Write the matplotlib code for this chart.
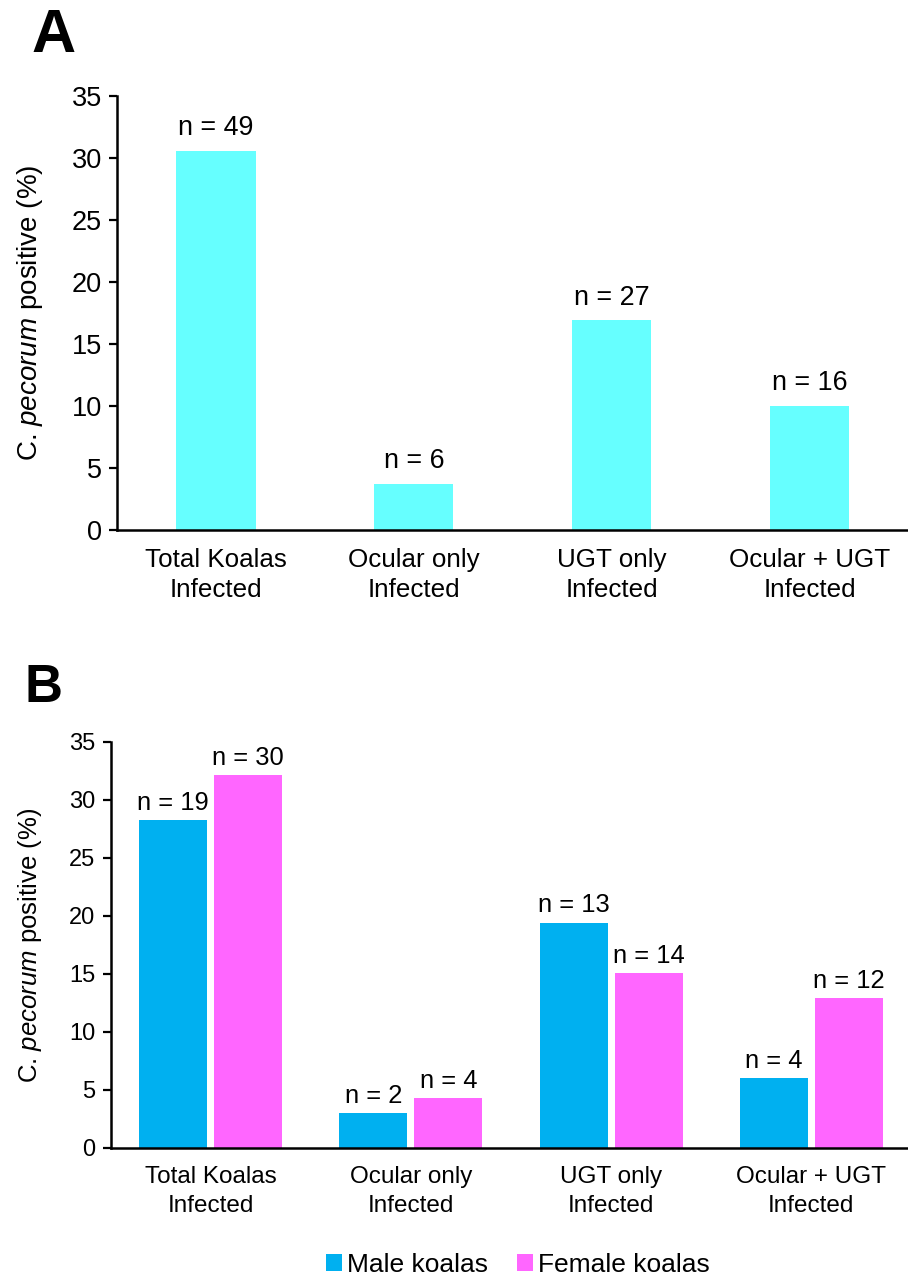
import matplotlib
matplotlib.use("Agg")
import matplotlib.pyplot as plt
from matplotlib.patches import Patch
import numpy as np

plt.rcParams['font.family'] = ['Liberation Sans', 'DejaVu Sans']
plt.rcParams['mathtext.fontset'] = 'custom'
plt.rcParams['mathtext.rm'] = 'Liberation Sans'
plt.rcParams['mathtext.it'] = 'Liberation Sans:italic'

# ---- data ----
categories = ["Total Koalas\nInfected", "Ocular only\nInfected",
              "UGT only\nInfected", "Ocular + UGT\nInfected"]
total_pct = [30.6, 3.75, 16.9, 10.0]
total_n = [49, 6, 27, 16]
male_pct = [28.2, 3.0, 19.4, 6.0]
male_n = [19, 2, 13, 4]
female_pct = [32.1, 4.3, 15.05, 12.9]
female_n = [30, 4, 14, 12]
yticks = [0, 5, 10, 15, 20, 25, 30, 35]

cyan = "#66FFFF"
blue = "#00B0F0"
pink = "#FF66FF"

W, H = 908, 1277
fig = plt.figure(figsize=(W / 100, H / 100), dpi=100)

def style_axes(ax, tick_fs, cat_fs, spacing, pad):
    ax.set_ylim(0, 35)
    ax.set_xlim(-0.5, 3.5)
    ax.set_yticks(yticks)
    ax.set_yticklabels([str(t) for t in yticks], fontsize=tick_fs)
    ax.set_xticks(range(len(categories)))
    ax.set_xticklabels(categories, fontsize=cat_fs, linespacing=spacing)
    for s in ['top', 'right']:
        ax.spines[s].set_visible(False)
    for s in ['left', 'bottom']:
        ax.spines[s].set_linewidth(1.8)
    ax.tick_params(axis='y', length=6, width=1.6, direction='out', pad=5)
    ax.tick_params(axis='x', length=0, pad=pad)

# ---- Panel A ----
axA = fig.add_axes([117 / W, 1 - 530 / H, 791.5 / W, 434 / H])
x = np.arange(len(categories))
barsA = axA.bar(x, total_pct, width=0.4, color=cyan)
axA.bar_label(barsA, labels=[f"n = {n}" for n in total_n], padding=7, fontsize=19.4)
style_axes(axA, 19.5, 18.7, 1.32, 13)
fig.text(30 / W, 1 - 313 / H, r"C. $\it{pecorum}$ positive (%)", rotation=90,
         ha='center', va='center', fontsize=20)
fig.text(31 / W, 1 - 52 / H, "A", fontsize=44, fontweight='bold', ha='left', va='baseline')

# ---- Panel B ----
axB = fig.add_axes([110.5 / W, 1 - 1148 / H, 801 / W, 406.5 / H])
off = 0.1875
bw = 0.34
barsM = axB.bar(x - off, male_pct, width=bw, color=blue, label="Male koalas")
barsF = axB.bar(x + off, female_pct, width=bw, color=pink, label="Female koalas")
axB.bar_label(barsM, labels=[f"n = {n}" for n in male_n], padding=4, fontsize=18.4)
axB.bar_label(barsF, labels=[f"n = {n}" for n in female_n], padding=4, fontsize=18.4)
style_axes(axB, 17, 17.5, 1.38, 13)
fig.text(30 / W, 1 - 945 / H, r"C. $\it{pecorum}$ positive (%)", rotation=90,
         ha='center', va='center', fontsize=18.5)
fig.text(24 / W, 1 - 702 / H, "B", fontsize=38, fontweight='bold', ha='left', va='baseline')

handles = [Patch(facecolor=blue), Patch(facecolor=pink)]
fig.legend(handles, ["Male koalas", "Female koalas"], loc='center',
           bbox_to_anchor=(518 / W, 1 - 1265 / H), ncol=2, frameon=False,
           fontsize=19, handlelength=0.6, handleheight=0.6, handletextpad=0.2,
           columnspacing=1.1, borderpad=0)

fig.savefig("out.png", dpi=100)
